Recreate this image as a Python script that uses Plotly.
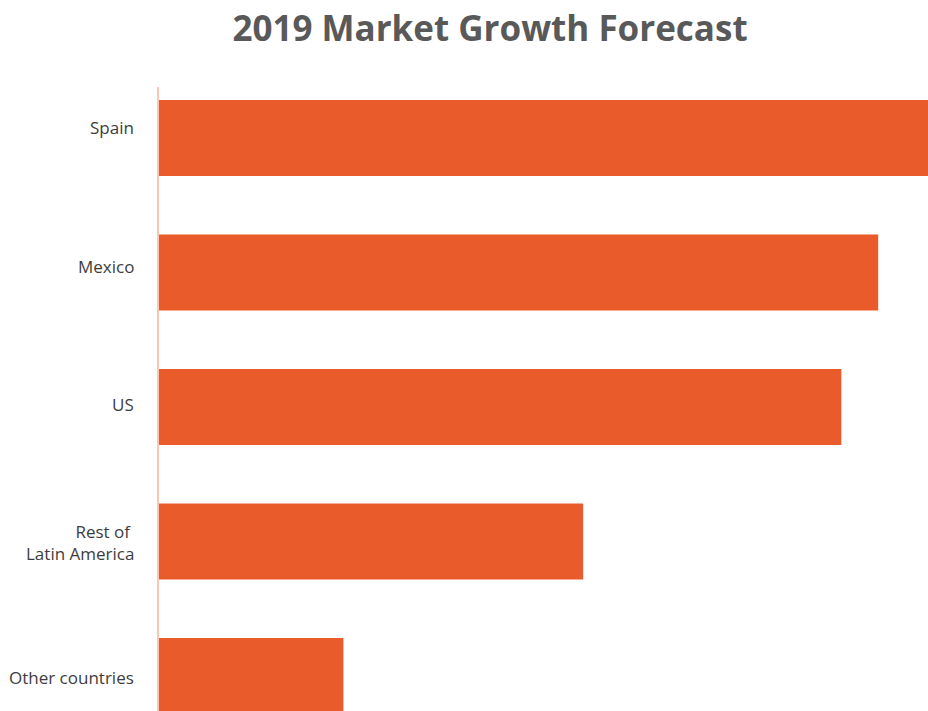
import plotly.graph_objects as go

# Forecast growth by market
markets = ["Spain", "Mexico", "US", "Rest of Latin America", "Other countries"]
market_labels = ["Spain", "Mexico", "US", "Rest of <br>Latin America", "Other countries"]
growth = [4.2, 3.9, 3.7, 2.3, 1.0]

# vertical nudges (px) for the category labels
label_shift = [10, 5.5, 2.5, -1, -1.5]

bar_color = "#E95B2A"
axis_color = "#F9C8B4"
label_color = "#3d3d3d"

fig = go.Figure(
    go.Bar(
        x=growth,
        y=markets,
        orientation="h",
        width=0.565,
        marker=dict(color=bar_color, line=dict(width=0)),
        hoverinfo="x+y",
    )
)

for name, label, dy in zip(markets, market_labels, label_shift):
    fig.add_annotation(
        x=0,
        xref="paper",
        y=name,
        yref="y",
        text=label,
        showarrow=False,
        xanchor="right",
        yanchor="middle",
        align="right",
        xshift=-23,
        yshift=dy,
        font=dict(family="Open Sans", size=17, color=label_color),
    )

fig.update_layout(
    width=928,
    height=711,
    paper_bgcolor="white",
    plot_bgcolor="white",
    margin=dict(l=159, r=0, t=87, b=0),
    showlegend=False,
    title=dict(
        text="<b>2019 Market Growth Forecast</b>",
        x=490 / 928,
        xanchor="center",
        y=1 - 29 / 711,
        yanchor="middle",
        font=dict(family="Open Sans", size=35, color="#595959"),
    ),
    font=dict(family="Open Sans", size=17, color=label_color),
)

fig.update_xaxes(
    range=[0, 4.17],
    showgrid=False,
    zeroline=False,
    showticklabels=False,
    showline=False,
)

fig.update_yaxes(
    type="category",
    range=[4.26, -0.379],
    showgrid=False,
    zeroline=False,
    showline=True,
    linecolor=axis_color,
    linewidth=2,
    ticks="",
    showticklabels=False,
)

fig.write_html("out.html")
